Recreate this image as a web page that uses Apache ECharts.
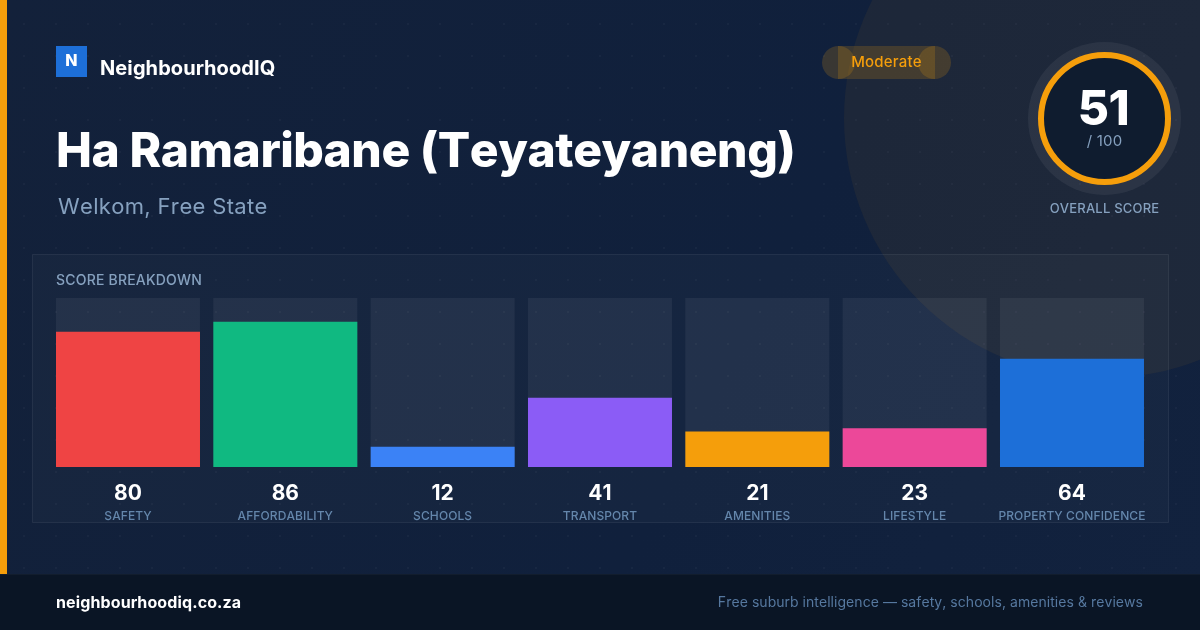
<!DOCTYPE html>
<html><head><meta charset="utf-8">
<style>html,body{margin:0;padding:0;background:#0f172a}#c{width:1200px;height:630px}</style>
<script src="https://cdn.jsdelivr.net/npm/echarts@6/dist/echarts.min.js"></script>
</head><body><div id="c"></div>
<script>
const categories=['SAFETY','AFFORDABILITY','SCHOOLS','TRANSPORT','AMENITIES','LIFESTYLE','PROPERTY CONFIDENCE'];
const scores=[80,86,12,41,21,23,64];
const barColors=['#ef4444','#10b981','#3b82f6','#8b5cf6','#f59e0b','#ec4899','#1d6fd8'];
const trackMax=[100,100,100,100,100,100,100];
const overallScore=51;
const F='Inter, sans-serif';
// per-size letter spacing (canvas has it natively; zrender does not expose it)
const spacing={48:'-0.43px',20:'0.1px',22:'0.33px',15:'0.2px',14:'0.2px',13:'0.2px',12:'0.1px',16:'0.12px',21:'0px'};
const ft=CanvasRenderingContext2D.prototype.fillText;
CanvasRenderingContext2D.prototype.fillText=function(t,x,y,m){
  const p=/(\d+)px/.exec(this.font);
  let s=(p&&spacing[p[1]])||'0px';
  if(p&&p[1]==='14'&&!/500/.test(this.font))s='0.05px';
  this.fontKerning='none';this.letterSpacing=s;
  return m===undefined?ft.call(this,t,x,y):ft.call(this,t,x,y,m);
};
// dot texture
const tex=document.createElement('canvas');tex.width=32;tex.height=32;
const tc=tex.getContext('2d');tc.fillStyle='rgba(255,255,255,0.03)';tc.fillRect(23,23,2,2);
const chart=echarts.init(document.getElementById('c'),null,{renderer:'canvas',width:1200,height:630});
const txt=(x,y,text,font,fill,align)=>({type:'text',x,y,silent:true,z:20,style:{text,fill,font:font+' '+F,textAlign:align||'left',textVerticalAlign:'middle'}});
chart.setOption({
  animation:false,
  backgroundColor:{type:'linear',x:0,y:0,x2:1,y2:1,colorStops:[{offset:0,color:'#13213a'},{offset:.6,color:'#10203c'},{offset:1,color:'#12223e'}]},
  grid:{left:49.33,width:1101.33,top:298,height:169},
  xAxis:{type:'category',data:categories,axisLine:{show:false},axisTick:{show:false},
    axisLabel:{interval:0,margin:15,lineHeight:24,
      formatter:(v,i)=>`{v|${scores[i]}}\n{n|${v}}`,
      rich:{v:{fontFamily:F,fontSize:21,fontWeight:700,color:'#ffffff',lineHeight:24,padding:[0,0,1,0]},n:{fontFamily:F,fontSize:12,fontWeight:500,color:'#6486ab',lineHeight:20}}}},
  yAxis:{type:'value',min:0,max:100,show:false},
  series:[
    {type:'bar',data:trackMax,barWidth:144,barGap:'-100%',itemStyle:{color:'rgba(255,255,255,0.06)'},silent:true,z:2},
    {type:'bar',data:scores.map((v,i)=>({value:v,itemStyle:{color:barColors[i]}})),barWidth:144,barGap:'-100%',silent:true,z:3}
  ],
  graphic:[
    {type:'image',x:0,y:0,z:-5,silent:true,style:{image:(()=>{const c=document.createElement('canvas');c.width=1200;c.height=630;const g=c.getContext('2d');g.fillStyle=g.createPattern(tex,'repeat');g.fillRect(0,0,1200,630);return c;})(),x:0,y:0,width:1200,height:630}},
    {type:'circle',z:-4,silent:true,shape:{cx:1104,cy:118,r:260},style:{fill:'rgba(245,158,11,0.06)'}},
    {type:'rect',z:-3,silent:true,shape:{x:32.5,y:254.5,width:1136,height:268},style:{fill:'rgba(255,255,255,0.025)',stroke:'rgba(255,255,255,0.07)',lineWidth:1}},
    {type:'rect',z:5,silent:true,shape:{x:0,y:0,width:7,height:574},style:{fill:'#f59e0b'}},
    {type:'rect',z:5,silent:true,shape:{x:0,y:574,width:1200,height:56},style:{fill:'#0a1525'}},
    {type:'rect',z:5,silent:true,shape:{x:0,y:574,width:1200,height:1},style:{fill:'#121d2d'}},
    {type:'rect',z:5,silent:true,shape:{x:56,y:46,width:31,height:31},style:{fill:'#1d6fd8'}},
    txt(71.5,61,'N','800 16px','#ffffff','center'),
    txt(100,69,'NeighbourhoodIQ','700 20px','#ffffff'),
    txt(56,153,'Ha Ramaribane (Teyateyaneng)','800 48px','#ffffff'),
    txt(58,207,'Welkom, Free State','400 22px','#86a1bf'),
    {type:'rect',z:6,silent:true,shape:{x:838,y:46,width:97,height:33},style:{fill:'rgba(245,158,11,0.18)'}},
    {type:'circle',z:6,silent:true,shape:{cx:838.5,cy:62.5,r:16.5},style:{fill:'rgba(245,158,11,0.18)'}},
    {type:'circle',z:6,silent:true,shape:{cx:934.5,cy:62.5,r:16.5},style:{fill:'rgba(245,158,11,0.18)'}},
    txt(886.5,62,'Moderate','500 15px','#f59e0b','center'),
    {type:'circle',z:6,silent:true,shape:{cx:1104.5,cy:118.5,r:76.5},style:{fill:'rgba(255,255,255,0.06)'}},
    {type:'circle',z:7,silent:true,shape:{cx:1104.5,cy:118.5,r:63.5},style:{fill:'#0f1c2f',stroke:'#f59e0b',lineWidth:6}},
    txt(1103.5,111,String(overallScore),'800 48px','#ffffff','center'),
    txt(1104.5,141.5,'/ 100','400 15px','#86a1bf','center'),
    txt(1104.5,209,'OVERALL SCORE','500 13px','#86a1bf','center'),
    txt(56,281,'SCORE BREAKDOWN','500 14px','#86a1bf'),
    txt(56,603,'neighbourhoodiq.co.za','700 16px','#ffffff'),
    txt(1143,603,'Free suburb intelligence — safety, schools, amenities & reviews','400 14px','#56789f','right')
  ]
});
</script></body></html>
